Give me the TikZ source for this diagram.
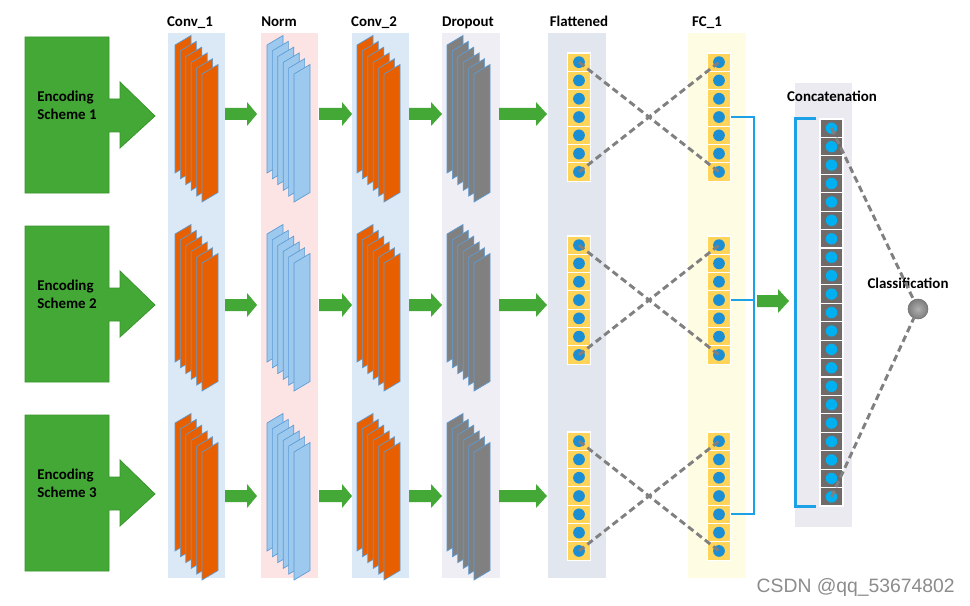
\documentclass[tikz,border=0pt]{standalone}
\usepackage{fontspec}
\setmainfont{Carlito}
\newfontfamily\wmfont{Liberation Sans}
\definecolor{garrow}{RGB}{67,168,53}
\definecolor{gedge}{RGB}{58,150,46}
\definecolor{orangeslab}{RGB}{232,95,0}
\definecolor{blueslab}{RGB}{157,201,238}
\definecolor{grayslab}{RGB}{128,128,128}
\definecolor{slabedge}{RGB}{91,155,213}
\definecolor{bgconv}{RGB}{219,232,245}
\definecolor{bgnorm}{RGB}{252,228,228}
\definecolor{bgdrop}{RGB}{238,238,244}
\definecolor{bgflat}{RGB}{226,231,239}
\definecolor{bgfc}{RGB}{254,253,228}
\definecolor{bgcat}{RGB}{234,234,240}
\definecolor{cellgold}{RGB}{255,212,88}
\definecolor{dotblue}{RGB}{28,142,212}
\definecolor{cellgray}{RGB}{112,106,104}
\definecolor{dotcyan}{RGB}{0,176,240}
\definecolor{dashgray}{RGB}{128,128,128}
\definecolor{lineblue}{RGB}{28,160,230}
\definecolor{clsin}{RGB}{175,175,175}
\definecolor{clsout}{RGB}{125,125,125}
\definecolor{clsedge}{RGB}{110,110,110}
\definecolor{wmgray}{RGB}{140,140,140}
\tikzset{
  title/.style={font=\bfseries\fontsize{11.2}{13}\selectfont, inner sep=0, anchor=base},
  enctext/.style={font=\bfseries\fontsize{11.2}{13.5}\selectfont, inner sep=0, anchor=west, align=left},
  gcell/.style={rectangle, fill=cellgold, draw=white, line width=0.8pt, minimum width=17pt, minimum height=13.7pt, inner sep=0},
  bdot/.style={circle, fill=dotblue, minimum size=8.8pt, inner sep=0},
  ccell/.style={rectangle, fill=cellgray, draw=white, line width=0.8pt, minimum width=17.25pt, minimum height=13.8pt, inner sep=0},
  cdot/.style={circle, fill=dotcyan, minimum size=8.6pt, inner sep=0},
  dline/.style={draw=dashgray, line width=2.2pt, dash pattern=on 5pt off 3pt},
  bline/.style={draw=lineblue, line width=1.7pt},
  slabstyle/.style={fill=#1, draw=slabedge, line width=0.5pt},
}
% stack of six slabs: x, y (top-left of back slab), fill colour
\newcommand\slabstack[3]{%
  \foreach \k in {0,...,5}{%
    \filldraw[slabstyle=#3] ({#1+5.4*\k},{#2+5.8*\k}) -- ++(16,-9.5) -- ++(0,128) -- ++(-16,9.5) -- cycle;
  }}
% block arrow: x start, x head start, x tip, y
\newcommand\garr[4]{%
  \fill[garrow] (#1,#4-6) -- (#2,#4-6) -- (#2,#4-12) -- (#3,#4) -- (#2,#4+12) -- (#2,#4+6) -- (#1,#4+6) -- cycle;}
% encoding block: centre y, row number
\newcommand\encblock[2]{%
  \filldraw[fill=garrow, draw=gedge, line width=0.6pt] (25,#1-79) -- (109,#1-79) -- (109,#1-17) -- (120,#1-17) -- (120,#1-34) -- (155,#1) -- (120,#1+32) -- (120,#1+16) -- (109,#1+16) -- (109,#1+77) -- (25,#1+77) -- cycle;
  \node[enctext] (enc#2) at (37,#1-11) {Encoding\\Scheme #2};}
\begin{document}
\begin{tikzpicture}[x=0.75pt,y=-0.75pt]
\useasboundingbox[fill=white] (0,0) rectangle (970,606);
% column backgrounds
\fill[bgconv] (168,33) rectangle (225,578);
\fill[bgnorm] (261,33) rectangle (318,578);
\fill[bgconv] (352,33) rectangle (409,578);
\fill[bgdrop] (442,33) rectangle (500,578);
\fill[bgflat] (548,33) rectangle (606,578);
\fill[bgfc] (688,33) rectangle (746,578);
\fill[bgcat] (795,83) rectangle (852,527);
% titles
\node[title] (tconv1) at (190,27) {Conv\_1};
\node[title] (tnorm) at (279,27) {Norm};
\node[title] (tconv2) at (374,27) {Conv\_2};
\node[title] (tdrop) at (468,27) {Dropout};
\node[title] (tflat) at (579,27) {Flattened};
\node[title] (tfc) at (707,27) {FC\_1};
\node[title] (tcat) at (832,102) {Concatenation};
\node[title] (tcls) at (908,288) {Classification};
% encoding blocks
\encblock{116}{1}
\encblock{305}{2}
\encblock{494}{3}
% slab stacks
\foreach \c in {116,305,494}{
  \slabstack{175}{\c-71}{orangeslab}
  \slabstack{267}{\c-71}{blueslab}
  \slabstack{357}{\c-71}{orangeslab}
  \slabstack{447}{\c-71}{grayslab}
}
% green arrows between stages
\foreach \a in {114,305,496}{
  \garr{225}{247}{257}{\a}
  \garr{319}{342}{352}{\a}
  \garr{409}{431}{442}{\a}
  \garr{499}{536}{547}{\a}
}
\garr{757}{778}{789}{301}
% flattened and FC_1 cells
\foreach \r/\t in {1/53,2/236,3/432}{
  \foreach \i in {1,...,7}{
    \node[gcell] (flb\r-\i) at (579,{\t+(\i-0.5)*18.3}) {};
    \node[bdot] (fl\r-\i) at (flb\r-\i.center) {};
    \node[gcell] (fcb\r-\i) at (719,{\t+(\i-0.5)*18.3}) {};
    \node[bdot] (fc\r-\i) at (fcb\r-\i.center) {};
  }
  \draw[dline] (fl\r-1.center) -- (fc\r-7.center);
  \draw[dline] (fl\r-7.center) -- (fc\r-1.center);
}
% concatenation cells
\foreach \i in {1,...,21}{
  \node[ccell] (cb-\i) at (831.5,{119+(\i-0.5)*18.43}) {};
  \node[cdot] (c-\i) at (cb-\i.center) {};
}
% blue bus from FC_1 rows
\coordinate (bus) at (754,300);
\draw[bline] (fcb1-4.east) -- (fcb1-4.east -| bus) -- (fcb3-5.east -| bus) -- (fcb3-5.east);
\draw[bline] (fcb2-4.east) -- (fcb2-4.east -| bus);
% bracket of concatenation
\draw[bline] ([xshift=-2.25pt]cb-1.north west) -- ++(-15.75pt,0) |- ([xshift=-2.25pt]cb-21.south west);
% classification
\node[circle, inner color=clsin, outer color=clsout, draw=clsedge, line width=0.4pt, minimum size=15pt, inner sep=0] (cls) at (918,309) {};
\draw[dline] (c-1.center) -- (cls);
\draw[dline] (c-21.center) -- (cls);
% watermark
\node[font=\wmfont\fontsize{14.5}{16}\selectfont, text=wmgray, anchor=base east, inner sep=0] (wm) at (955,592) {CSDN @qq\_53674802};
\end{tikzpicture}
\end{document}
